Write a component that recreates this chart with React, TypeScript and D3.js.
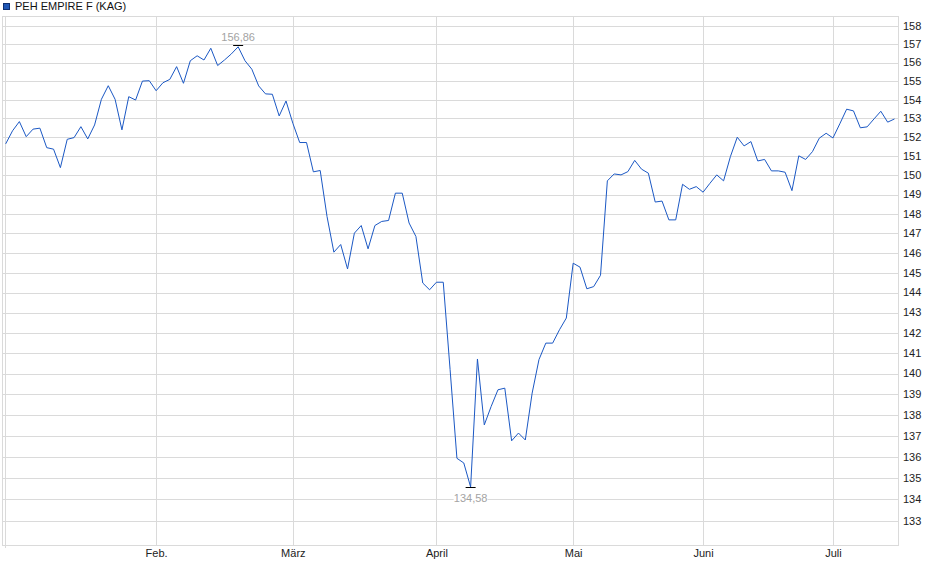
import { useEffect, useRef } from "react";
import * as d3 from 'd3';

const width = 940;
const height = 579;

const MARGIN = {
  top: 16,
  right: 42,
  bottom: 34,
  left: 3
};

const seriesName = 'PEH EMPIRE F (KAG)';

// daily values (trading days, January to mid July)
const prices = [
  151.65, 152.34, 152.83, 152.03, 152.43, 152.48, 151.45, 151.37, 150.40, 151.89,
  151.98, 152.56, 151.91, 152.65, 154.02, 154.75, 154.02, 152.39, 154.16, 153.98,
  155.00, 155.02, 154.48, 154.91, 155.09, 155.78, 154.88, 156.10, 156.37, 156.14,
  156.78, 155.84, 156.14, 156.47, 156.86, 156.10, 155.64, 154.74, 154.31, 154.29,
  153.13, 153.93, 152.74, 151.72, 151.72, 150.18, 150.25, 147.86, 146.04, 146.43,
  145.19, 147.01, 147.40, 146.21, 147.40, 147.61, 147.66, 149.07, 149.07, 147.53,
  146.84, 144.48, 144.14, 144.52, 144.52, 140.19, 135.93, 135.71, 134.58, 140.71,
  137.52, 138.40, 139.21, 139.29, 136.76, 137.13, 136.80, 139.05, 140.68, 141.49,
  141.49, 142.15, 142.73, 145.48, 145.28, 144.19, 144.30, 144.87, 149.71, 150.07,
  150.02, 150.19, 150.78, 150.32, 150.11, 148.61, 148.66, 147.69, 147.69, 149.53,
  149.27, 149.41, 149.12, 149.58, 150.02, 149.71, 150.98, 152.00, 151.54, 151.77,
  150.75, 150.83, 150.23, 150.23, 150.16, 149.20, 151.02, 150.83, 151.24, 151.95,
  152.21, 151.96, 152.71, 153.49, 153.40, 152.50, 152.55, 152.97, 153.38, 152.80,
  152.97
];

const monthLabels = ['Feb.', 'März', 'April', 'Mai', 'Juni', 'Juli'];
const monthStartIndex = [22, 42, 63, 83, 102, 121];

const yTicks = [133, 134, 135, 136, 137, 138, 139, 140, 141, 142, 143, 144, 145,
  146, 147, 148, 149, 150, 151, 152, 153, 154, 155, 156, 157, 158];

const GRID = '#dadada';
const LINE = '#1b58c4';

function PriceChart() {
  const svgRef = useRef(null);

  useEffect(() => {
    drawChart();
  }, []);

  const x0 = MARGIN.left;
  const x1 = width - MARGIN.right;
  const y0 = MARGIN.top;
  const y1 = height - MARGIN.bottom;

  const drawChart = () => {
    const svg = d3.select(svgRef.current);
    svg.selectAll('*').remove();

    const xScale = d3.scaleLinear()
      .domain([0, prices.length - 1])
      .range([5.7, 894.5]);

    const yScale = d3.scaleLog()
      .domain([131.89, 158.55])
      .range([y1, y0]);

    const px = (v: number) => Math.round(v) + 0.5;

    // horizontal grid
    svg.append('g')
      .selectAll('line')
      .data(yTicks)
      .join('line')
      .attr('x1', x0)
      .attr('x2', x1)
      .attr('y1', d => px(yScale(d)))
      .attr('y2', d => px(yScale(d)))
      .attr('stroke', GRID);

    // vertical grid at month starts
    svg.append('g')
      .selectAll('line')
      .data(monthStartIndex)
      .join('line')
      .attr('x1', d => px(xScale(d)))
      .attr('x2', d => px(xScale(d)))
      .attr('y1', y0)
      .attr('y2', y1)
      .attr('stroke', GRID);

    // frame
    svg.append('rect')
      .attr('x', x0 - 0.5)
      .attr('y', y0 + 0.5)
      .attr('width', x1 - x0 + 1)
      .attr('height', y1 - y0)
      .attr('fill', 'none')
      .attr('stroke', GRID);
    svg.append('line')
      .attr('x1', x0 + 2.5).attr('x2', x0 + 2.5)
      .attr('y1', y0).attr('y2', y1 + 3)
      .attr('stroke', GRID);

    // y labels on the right
    svg.append('g')
      .selectAll('text')
      .data(yTicks)
      .join('text')
      .attr('x', x1 + 5)
      .attr('y', d => yScale(d))
      .attr('dy', '0.35em')
      .attr('font-family', 'Liberation Sans, Arial, sans-serif')
      .attr('font-size', 11)
      .attr('fill', '#222')
      .text(d => d);

    // month labels
    svg.append('g')
      .selectAll('text')
      .data(monthStartIndex)
      .join('text')
      .attr('x', d => xScale(d) + 0.5)
      .attr('y', y1 + 8)
      .attr('dy', '0.35em')
      .attr('text-anchor', 'middle')
      .attr('font-family', 'Liberation Sans, Arial, sans-serif')
      .attr('font-size', 11)
      .attr('fill', '#222')
      .text((d, i) => monthLabels[i]);

    // price line
    const line = d3.line<number>()
      .x((d, i) => xScale(i))
      .y(d => yScale(d));

    svg.append('path')
      .datum(prices)
      .attr('fill', 'none')
      .attr('stroke', LINE)
      .attr('stroke-width', 1)
      .attr('stroke-linejoin', 'round')
      .attr('d', line);

    // min / max markers
    const maxIdx = d3.maxIndex(prices);
    const minIdx = d3.minIndex(prices);
    const marks = [
      { i: maxIdx, v: prices[maxIdx], dy: -8 },
      { i: minIdx, v: prices[minIdx], dy: 11 }
    ];
    marks.forEach(m => {
      const cx = xScale(m.i);
      const cy = Math.round(yScale(m.v)) - (m.dy < 0 ? 1.5 : -0.5);
      svg.append('line')
        .attr('x1', cx - 5).attr('x2', cx + 5)
        .attr('y1', cy).attr('y2', cy)
        .attr('stroke', '#000');
      const label = m.v.toFixed(2).replace('.', ',');
      const ty = cy + m.dy;
      svg.append('rect')
        .attr('x', cx - 17)
        .attr('y', ty - 6)
        .attr('width', 34)
        .attr('height', 12)
        .attr('fill', '#fff');
      svg.append('text')
        .attr('x', cx)
        .attr('y', ty)
        .attr('dy', '0.35em')
        .attr('text-anchor', 'middle')
        .attr('font-family', 'Liberation Sans, Arial, sans-serif')
        .attr('font-size', 11)
        .attr('fill', '#a3a3a3')
        .text(label);
    });

    // legend
    svg.append('rect')
      .attr('x', 3.5).attr('y', 3.5)
      .attr('width', 6).attr('height', 6)
      .attr('fill', '#1f57b5')
      .attr('stroke', '#0e2f70');
    svg.append('text')
      .attr('x', 15)
      .attr('y', 6.5)
      .attr('dy', '0.35em')
      .attr('font-family', 'Liberation Sans, Arial, sans-serif')
      .attr('font-size', 11)
      .attr('fill', '#111')
      .text(seriesName);
  };

  return (
    <svg width={width} height={height} ref={svgRef}
      style={{ position: 'absolute', left: 0, top: 0, background: '#fff' }}>
    </svg>
  );
}

export default function App() {
  return <PriceChart />;
}
